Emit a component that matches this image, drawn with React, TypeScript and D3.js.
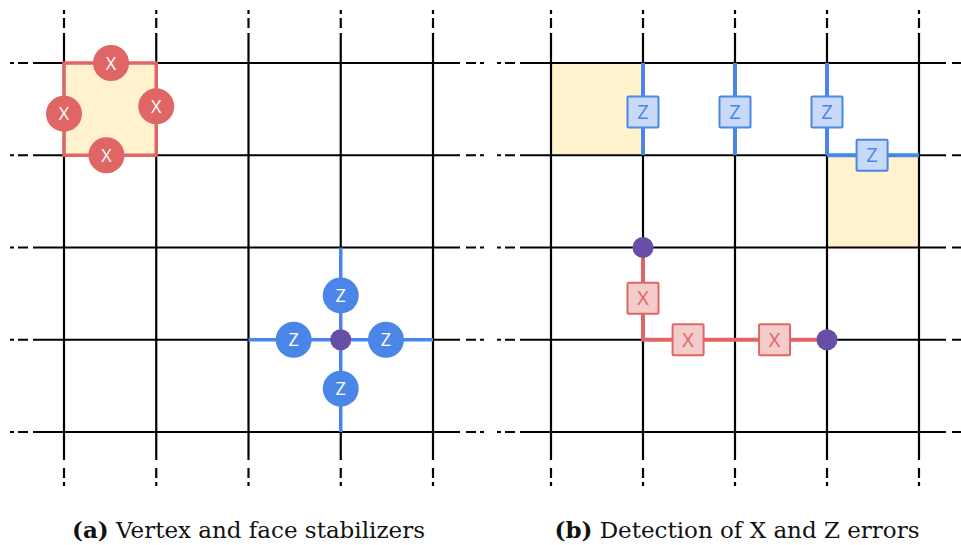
import React from "react";
import * as d3 from "d3";

// lattice indices (5 x 5 vertices shown per panel)
const gridIdx = [0, 1, 2, 3, 4];

// panel (a): one face (plaquette) stabilizer, X operators on its edges
const faceCellA = { col: 0, row: 0 };
const faceXOps = [
  { u: 0.51, v: 0 },
  { u: 0, v: 0.55 },
  { u: 1, v: 0.47 },
  { u: 0.46, v: 1 },
];

// panel (a): one vertex (star) stabilizer, Z operators on its edges
const starVertex = { col: 3, row: 3 };
const starZOps = [
  { du: -0.51, dv: 0 },
  { du: 0.49, dv: 0 },
  { du: 0, dv: -0.48 },
  { du: 0, dv: 0.53 },
];

// panel (b): highlighted faces, Z error edges, X error path, flagged vertices
const flaggedFaces = [
  { col: 0, row: 0 },
  { col: 3, row: 1 },
];
const zErrors = [
  { c1: 1, r1: 0, c2: 1, r2: 1, t: 0.53 },
  { c1: 2, r1: 0, c2: 2, r2: 1, t: 0.53 },
  { c1: 3, r1: 0, c2: 3, r2: 1, t: 0.53 },
  { c1: 3, r1: 1, c2: 4, r2: 1, t: 0.49 },
];
const xErrors = [
  { c1: 1, r1: 2, c2: 1, r2: 3, t: 0.55 },
  { c1: 1, r1: 3, c2: 2, r2: 3, t: 0.49 },
  { c1: 2, r1: 3, c2: 3, r2: 3, t: 0.43 },
];
const flaggedVertices = [
  { col: 1, row: 2 },
  { col: 3, row: 3 },
];

const captions = [
  { tag: "(a)", text: " Vertex and face stabilizers" },
  { tag: "(b)", text: " Detection of X and Z errors" },
];

const RED = "#e06666";
const RED_LIGHT = "#f4cccc";
const BLUE = "#4a86e8";
const BLUE_LIGHT = "#c9daf8";
const PURPLE = "#674ea7";
const YELLOW = "#fff2cc";
const SANS = "'Open Sans', 'Noto Sans', sans-serif";
const SERIF = "'DejaVu Serif', 'Liberation Serif', serif";

const y = d3.scaleLinear().domain([0, 4]).range([63, 432]);
const xA = d3.scaleLinear().domain([0, 4]).range([64, 433]);
const xB = d3.scaleLinear().domain([0, 4]).range([551, 919]);

function Lattice({ x }: { x: d3.ScaleLinear<number, number> }) {
  const x0 = x(0), x4 = x(4), y0 = y(0), y4 = y(4);
  const dash = "10,4,4,100";
  return (
    <g stroke="#000" strokeWidth={2.2} fill="none">
      {gridIdx.map((i) => (
        <g key={"h" + i}>
          <line x1={x0 - 31} x2={x4 + 27} y1={y(i)} y2={y(i)} />
          <line x1={x0 - 36} x2={x0 - 54} y1={y(i)} y2={y(i)} strokeDasharray={dash} />
          <line x1={x4 + 33} x2={x4 + 51} y1={y(i)} y2={y(i)} strokeDasharray={dash} />
        </g>
      ))}
      {gridIdx.map((i) => (
        <g key={"v" + i}>
          <line x1={x(i)} x2={x(i)} y1={y0 - 30} y2={y4 + 28} />
          <line x1={x(i)} x2={x(i)} y1={y0 - 35} y2={y0 - 53} strokeDasharray={dash} />
          <line x1={x(i)} x2={x(i)} y1={y4 + 36} y2={y4 + 54} strokeDasharray={dash} />
        </g>
      ))}
    </g>
  );
}

function OpCircle({ cx, cy, label, fill }: { cx: number; cy: number; label: string; fill: string }) {
  return (
    <g>
      <circle cx={cx} cy={cy} r={18} fill={fill} />
      <text x={cx} y={cy + 6.5} textAnchor="middle" fill="#fff" fontFamily={SANS} fontSize={18}>
        {label}
      </text>
    </g>
  );
}

function OpSquare({ cx, cy, label, fill, stroke }: { cx: number; cy: number; label: string; fill: string; stroke: string }) {
  const s = 31;
  return (
    <g>
      <rect x={cx - s / 2} y={cy - s / 2} width={s} height={s} rx={1} fill={fill} stroke={stroke} strokeWidth={2} />
      <text x={cx} y={cy + 7} textAnchor="middle" fill={stroke} fontFamily={SANS} fontSize={20}>
        {label}
      </text>
    </g>
  );
}

function PanelA() {
  const x = xA;
  const fx0 = x(faceCellA.col), fx1 = x(faceCellA.col + 1);
  const fy0 = y(faceCellA.row), fy1 = y(faceCellA.row + 1);
  const vx = x(starVertex.col), vy = y(starVertex.row);
  return (
    <g>
      <rect x={fx0} y={fy0} width={fx1 - fx0} height={fy1 - fy0} fill={YELLOW} />
      <Lattice x={x} />
      <rect x={fx0} y={fy0} width={fx1 - fx0} height={fy1 - fy0} fill="none" stroke={RED} strokeWidth={3.5} />
      {faceXOps.map((d, i) => (
        <OpCircle key={i} cx={x(faceCellA.col + d.u)} cy={y(faceCellA.row + d.v)} label="X" fill={RED} />
      ))}
      <g stroke={BLUE} strokeWidth={3.5}>
        <line x1={x(starVertex.col - 1)} x2={x(starVertex.col + 1)} y1={vy} y2={vy} />
        <line x1={vx} x2={vx} y1={y(starVertex.row - 1)} y2={y(starVertex.row + 1)} />
      </g>
      {starZOps.map((d, i) => (
        <OpCircle key={i} cx={x(starVertex.col + d.du)} cy={y(starVertex.row + d.dv)} label="Z" fill={BLUE} />
      ))}
      <circle cx={vx} cy={vy} r={10.5} fill={PURPLE} />
    </g>
  );
}

function PanelB() {
  const x = xB;
  const xPath = d3.line<{ c: number; r: number }>()
    .x((d) => x(d.c))
    .y((d) => y(d.r));
  const pathPts = [{ c: xErrors[0].c1, r: xErrors[0].r1 }, ...xErrors.map((e) => ({ c: e.c2, r: e.r2 }))];
  return (
    <g>
      {flaggedFaces.map((f, i) => (
        <rect key={i} x={x(f.col)} y={y(f.row)} width={x(f.col + 1) - x(f.col)} height={y(f.row + 1) - y(f.row)} fill={YELLOW} />
      ))}
      <Lattice x={x} />
      <g stroke={BLUE} strokeWidth={4}>
        {zErrors.map((e, i) => (
          <line key={i} x1={x(e.c1)} x2={x(e.c2)} y1={y(e.r1)} y2={y(e.r2)} />
        ))}
      </g>
      <path d={xPath(pathPts) || ""} fill="none" stroke={RED} strokeWidth={4} />
      {zErrors.map((e, i) => (
        <OpSquare key={i} cx={x(e.c1 + (e.c2 - e.c1) * e.t)} cy={y(e.r1 + (e.r2 - e.r1) * e.t)} label="Z" fill={BLUE_LIGHT} stroke={BLUE} />
      ))}
      {xErrors.map((e, i) => (
        <OpSquare key={i} cx={x(e.c1 + (e.c2 - e.c1) * e.t)} cy={y(e.r1 + (e.r2 - e.r1) * e.t)} label="X" fill={RED_LIGHT} stroke={RED} />
      ))}
      {flaggedVertices.map((v, i) => (
        <circle key={i} cx={x(v.col)} cy={y(v.row)} r={10.5} fill={PURPLE} />
      ))}
    </g>
  );
}

export default function App() {
  const capX = [xA(2), xB(2) + 2];
  return (
    <svg width={961} height={545} style={{ position: "absolute", left: 0, top: 0, background: "#fff" }}>
      <PanelA />
      <PanelB />
      {captions.map((c, i) => (
        <text key={i} x={capX[i]} y={538} textAnchor="middle" fontFamily={SERIF} fontSize={23} fill="#111">
          <tspan fontWeight="bold">{c.tag}</tspan>
          {c.text}
        </text>
      ))}
    </svg>
  );
}
